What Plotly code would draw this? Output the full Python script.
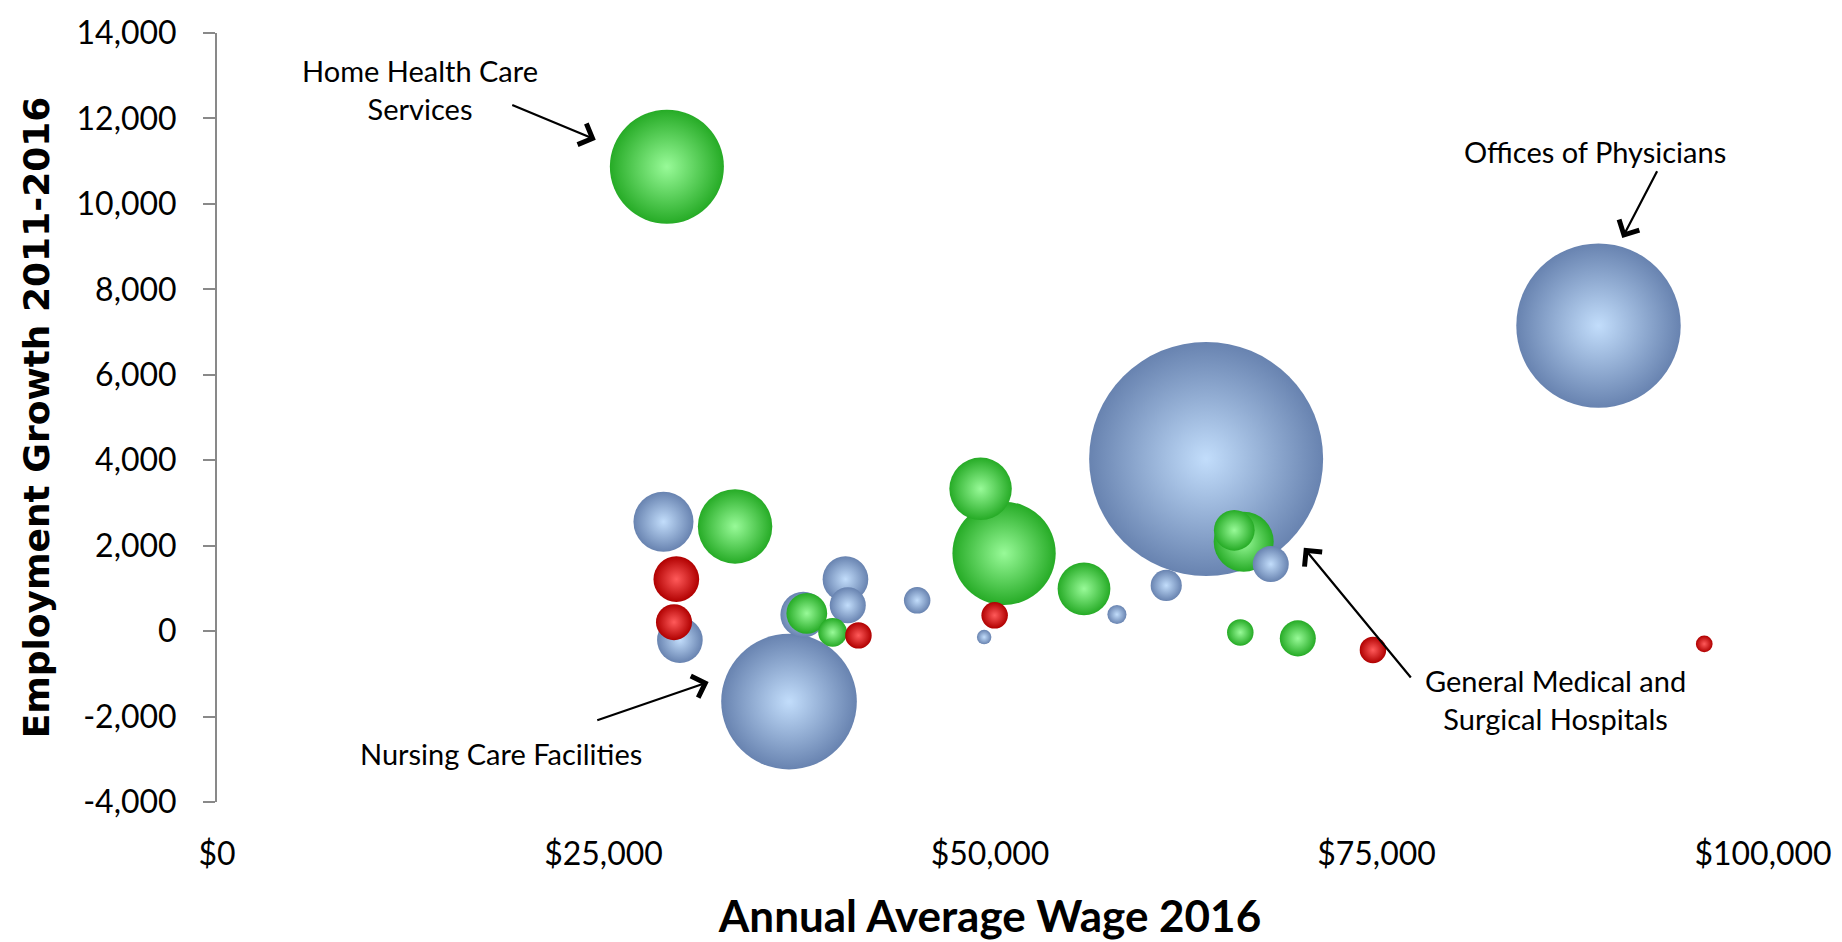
import pandas as pd
import plotly.graph_objects as go

# bubbles: wage ($), employment growth 2011-2016, bubble size (employment), colour group
wage = [29100, 89360, 63980, 37000, 28880, 33510, 29710, 29560, 29940, 37920,
        38150, 39820, 41490, 40650, 40800, 45290, 49620, 50300, 49390, 50910,
        56080, 58210, 61400, 65800, 66410, 68160, 66190, 69910, 74770, 96200]
growth = [10870, 7150, 4030, -1650, 2560, 2450, 1215, 210, -210, 385,
          415, -30, -100, 1215, 605, 720, -140, 370, 3330, 1820,
          990, 390, 1070, 2360, 2090, 1570, -30, -170, -440, -300]
employment = [13540, 28150, 57000, 19150, 3750, 5770, 2170, 1350, 2170, 2170,
              1730, 860, 730, 2170, 1350, 730, 220, 730, 4060, 11100,
              2900, 380, 1010, 1730, 3750, 1350, 730, 1350, 730, 290]
group = ["green", "blue", "blue", "blue", "blue", "green", "red", "red", "blue", "blue",
         "green", "green", "red", "blue", "blue", "blue", "blue", "red", "green", "green",
         "green", "blue", "blue", "green", "green", "blue", "green", "green", "red", "red"]

y_ticks = list(range(-4000, 14001, 2000))
x_ticks = list(range(0, 100001, 25000))

callouts = {
    "Home Health Care<br>Services": (13100, 12670, 19000, 12330, 24500, 11500),
    "Offices of Physicians": (89130, 11220, 93200, 10800, 90900, 9200),
    "General Medical and<br>Surgical Hospitals": (86550, -1600, 77300, -1120, 70300, 1950),
    "Nursing Care Facilities": (18400, -2860, 24500, -2100, 31800, -1190),
}

# radial gradient: marker colour sits on the rim, gradient colour in the middle
CENTER = {"blue": "#c2ddfb", "green": "#98fa98", "red": "#ff5a5a"}
EDGE = {"blue": "#6883b0", "green": "#26ab26", "red": "#b00000"}
AXIS = "#898989"

df = pd.DataFrame({"wage": wage, "growth": growth, "size": employment, "group": group})
# larger bubbles are painted first so small ones sit on top
df = df.sort_values("size", ascending=False)

max_diameter = 234
fig = go.Figure(go.Scatter(
    x=df["wage"], y=df["growth"], mode="markers",
    marker=dict(
        size=df["size"], sizemode="area", sizeref=2 * max(employment) / max_diameter ** 2,
        color=df["group"].map(EDGE), line=dict(width=0),
        gradient=dict(type="radial", color=df["group"].map(CENTER)),
        opacity=1,
    ),
    hoverinfo="x+y", showlegend=False,
))

for text, (tx, ty, x0, y0, x1, y1) in callouts.items():
    fig.add_annotation(x=tx, y=ty, text=text, showarrow=False,
                       font=dict(family="Lato", size=29, color="black"))
    fig.add_annotation(x=x1, y=y1, ax=x0, ay=y0, axref="x", ayref="y", text="",
                       showarrow=True, arrowhead=4, arrowsize=2, arrowwidth=2.2, arrowcolor="black")

fig.update_layout(
    width=1842, height=942, plot_bgcolor="white", paper_bgcolor="white",
    margin=dict(l=209, r=87, t=25, b=148, autoexpand=False),
    font=dict(family="Lato", color="black"),
    xaxis=dict(
        range=[0, 100000], tickvals=x_ticks, ticktext=[f"${v:,}" for v in x_ticks],
        showgrid=False, zeroline=False, showline=False, ticks="", automargin=False,
        tickfont=dict(size=32), ticklabelstandoff=30,
        title=dict(text="<b>Annual Average Wage 2016</b>", font=dict(family="Lato", size=44), standoff=30),
    ),
    xaxis2=dict(
        overlaying="x", anchor="free", position=4000 / 18000, range=[0, 100000], automargin=False,
        showline=True, linecolor=AXIS, linewidth=2, ticks="outside", ticklen=12, tickwidth=2,
        tickcolor=AXIS, tick0=0, dtick=15000, showticklabels=False, showgrid=False, zeroline=False,
    ),
    yaxis=dict(
        range=[-4000, 14000], tickvals=y_ticks, ticktext=[f"{v:,}" for v in y_ticks],
        showgrid=False, zeroline=False, showline=True, linecolor=AXIS, linewidth=2,
        ticks="outside", ticklen=12, tickwidth=2, tickcolor=AXIS, automargin=False,
        tickfont=dict(size=32), ticklabelstandoff=20,
        title=dict(text="<b>Employment Growth 2011-2016</b>",
                   font=dict(family="DejaVu Sans", size=36), standoff=16),
    ),
)

fig.write_html("out.html")
